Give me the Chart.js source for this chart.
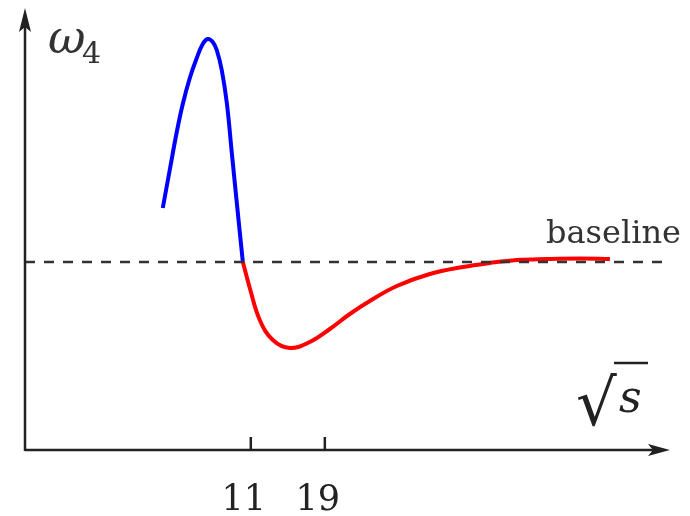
<!DOCTYPE html>
<html lang="en">
<head>
  <meta charset="UTF-8">
  <title>omega4 vs sqrt(s)</title>
  <script src="https://cdn.jsdelivr.net/npm/chart.js"></script>
  <style>
        body {
            margin: 0;
            background-color: #ffffff;
        }
        canvas {
            display: block;
        }
    </style>
</head>
<body>
<canvas id="omegaChart" width="690" height="516"></canvas>
<script>
    // blue branch (rising part up to the baseline crossing)
    const blueX = [1.49, 2.24, 3.0, 3.65, 4.41, 5.16, 5.81, 6.35, 6.89, 7.32, 7.86, 8.41, 8.95, 9.49, 10.14];
    const blueY = [0.54, 0.92, 1.30, 1.58, 1.84, 2.04, 2.18, 2.23, 2.20, 2.12, 1.92, 1.59, 1.09, 0.59, 0.0];

    // red branch (dip below the baseline and slow return)
    const redX = [10.14, 10.89, 11.97, 13.38, 15.22, 17.38, 19.54, 21.70, 23.86, 26.78, 30.35, 33.92, 36.84, 39.76, 43.0, 46.57, 49.81];
    const redY = [0.0, -0.26, -0.58, -0.78, -0.86, -0.80, -0.67, -0.52, -0.39, -0.24, -0.12, -0.05, -0.01, 0.02, 0.03, 0.035, 0.03];

    const baselineX = [-13.4, 56.3];
    const baselineY = [0, 0];

    const tickValues = [11, 19];
    const tickLabels = ['11', '19'];

    const xRange = [-13.4, 56.3];
    const yRange = [-1.88, 2.54];

    const serif = '"DejaVu Serif"';

    const toPoints = (xs, ys) => xs.map((x, i) => ({ x: x, y: ys[i] }));

    // axes with arrows, tick marks and the text labels
    const axesPlugin = {
        id: 'axesPlugin',
        afterDatasetsDraw(chart) {
            const ctx = chart.ctx;
            const area = chart.chartArea;
            const xs = chart.scales.x;
            ctx.save();
            ctx.strokeStyle = '#222';
            ctx.fillStyle = '#222';
            ctx.lineWidth = 2.5;

            // x axis
            ctx.beginPath();
            ctx.moveTo(area.left, area.bottom);
            ctx.lineTo(area.right - 12, area.bottom);
            ctx.stroke();
            ctx.beginPath();
            ctx.moveTo(area.right, area.bottom);
            ctx.lineTo(area.right - 22, area.bottom - 6);
            ctx.lineTo(area.right - 17, area.bottom);
            ctx.lineTo(area.right - 22, area.bottom + 6);
            ctx.closePath();
            ctx.fill();

            // y axis
            ctx.beginPath();
            ctx.moveTo(area.left, area.bottom + 1);
            ctx.lineTo(area.left, area.top + 12);
            ctx.stroke();
            ctx.beginPath();
            ctx.moveTo(area.left, area.top);
            ctx.lineTo(area.left - 6, area.top + 24);
            ctx.lineTo(area.left, area.top + 19);
            ctx.lineTo(area.left + 6, area.top + 24);
            ctx.closePath();
            ctx.fill();

            // ticks
            ctx.font = '35px ' + serif;
            ctx.textAlign = 'center';
            ctx.textBaseline = 'alphabetic';
            tickValues.forEach((v, i) => {
                const px = xs.getPixelForValue(v);
                ctx.beginPath();
                ctx.moveTo(px, area.bottom);
                ctx.lineTo(px, area.bottom - 13);
                ctx.stroke();
                ctx.fillText(tickLabels[i], px - 7, area.bottom + 60);
            });

            // labels
            ctx.fillStyle = '#333';
            ctx.textAlign = 'left';
            ctx.font = 'italic 46px ' + serif;
            ctx.fillText('ω', 48, 53);
            ctx.font = '30px ' + serif;
            ctx.fillText('4', 82, 63);

            ctx.font = '32px ' + serif;
            ctx.fillText('baseline', 546, 243);

            ctx.fillStyle = '#222';
            ctx.font = '64px ' + serif;
            ctx.fillText('√', 576, 425);
            ctx.font = 'italic 44px ' + serif;
            ctx.fillText('s', 619, 412);
            ctx.lineWidth = 2.5;
            ctx.beginPath();
            ctx.moveTo(614, 363);
            ctx.lineTo(648, 363);
            ctx.stroke();

            ctx.restore();
        }
    };

    const ctx = document.getElementById('omegaChart').getContext('2d');
    window.omegaChart = new Chart(ctx, {
        type: 'line',
        data: {
            datasets: [
                {
                    data: toPoints(baselineX, baselineY),
                    borderColor: '#333',
                    borderWidth: 2.5,
                    borderDash: [10, 9],
                    pointRadius: 0
                },
                {
                    data: toPoints(blueX, blueY),
                    borderColor: '#0000ff',
                    borderWidth: 4,
                    pointRadius: 0,
                    tension: 0.4
                },
                {
                    data: toPoints(redX, redY),
                    borderColor: '#ff0000',
                    borderWidth: 4,
                    pointRadius: 0,
                    tension: 0.4
                }
            ]
        },
        options: {
            responsive: false,
            animation: false,
            layout: {
                padding: { left: 25, right: 20, top: 8, bottom: 66 }
            },
            plugins: {
                legend: { display: false },
                tooltip: { enabled: false }
            },
            scales: {
                x: {
                    type: 'linear',
                    display: false,
                    min: xRange[0],
                    max: xRange[1]
                },
                y: {
                    display: false,
                    min: yRange[0],
                    max: yRange[1]
                }
            }
        },
        plugins: [axesPlugin]
    });
</script>
</body>
</html>
